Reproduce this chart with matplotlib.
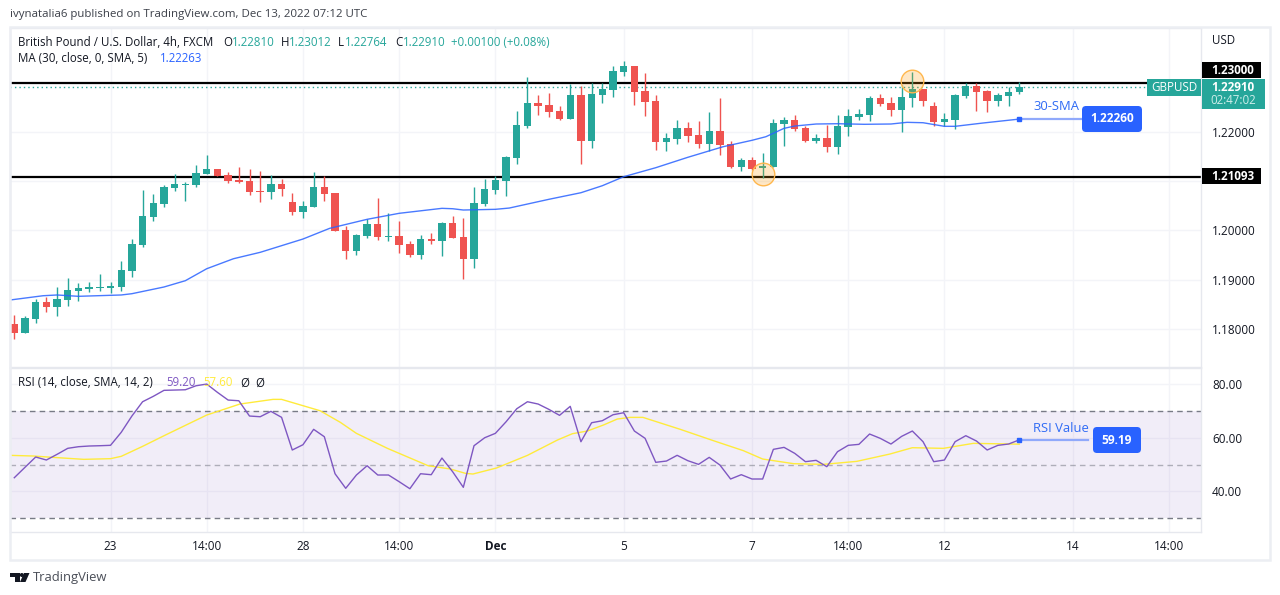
"""GBPUSD 4h chart with 30-SMA and RSI pane, TradingView look."""
import numpy as np
import matplotlib
matplotlib.use("Agg")
import matplotlib.pyplot as plt
from matplotlib.patches import Rectangle, FancyBboxPatch, Polygon, Circle

plt.rcParams["font.family"] = ["Open Sans", "DejaVu Sans"]

opens = [1.18100, 1.17917, 1.18201, 1.18546, 1.18445, 1.18587, 1.18770, 1.18810, 1.18831, 1.18831,
         1.18851, 1.19176, 1.19704, 1.20272, 1.20536, 1.20861, 1.20921, 1.20921, 1.21145, 1.21246,
         1.21124, 1.21023, 1.21003, 1.20800, 1.20779, 1.20942, 1.20576, 1.20373, 1.20475, 1.20881,
         1.20759, 1.20008, 1.19582, 1.19886, 1.20130, 1.19866, 1.19886, 1.19724, 1.19500, 1.19825,
         1.19785, 1.20150, 1.19866, 1.19419, 1.20536, 1.20820, 1.21003, 1.21470, 1.22119, 1.22586,
         1.22545, 1.22424, 1.22261, 1.22748, 1.21815, 1.22748, 1.22850, 1.23215, 1.23337, 1.22830,
         1.22627, 1.21795, 1.21856, 1.22079, 1.21937, 1.21754, 1.22018, 1.21754, 1.21287, 1.21429,
         1.21267, 1.21287, 1.22160, 1.22241, 1.22079, 1.21815, 1.21876, 1.21693, 1.22099, 1.22302,
         1.22342, 1.22688, 1.22586, 1.22444, 1.22688, 1.22870, 1.22525, 1.22200, 1.22241, 1.22728,
         1.22931, 1.22830, 1.22627, 1.22728, 1.22810]
highs = [1.18283, 1.18262, 1.18607, 1.18648, 1.18851, 1.19034, 1.18932, 1.18952, 1.19115, 1.18952,
         1.19379, 1.19825, 1.20820, 1.20739, 1.20921, 1.21145, 1.20982, 1.21327, 1.21530, 1.21246,
         1.21185, 1.21287, 1.21246, 1.21206, 1.21124, 1.21043, 1.20759, 1.20597, 1.21185, 1.21104,
         1.20759, 1.20089, 1.19927, 1.20231, 1.20658, 1.20353, 1.20191, 1.19785, 1.19907, 1.19947,
         1.20170, 1.20292, 1.20252, 1.20881, 1.21043, 1.21104, 1.21510, 1.22424, 1.23114, 1.22748,
         1.22789, 1.22525, 1.22972, 1.22931, 1.22992, 1.22992, 1.23337, 1.23439, 1.23337, 1.23195,
         1.22748, 1.21977, 1.22241, 1.22200, 1.22221, 1.22403, 1.22688, 1.21815, 1.21470, 1.21490,
         1.21571, 1.22261, 1.22302, 1.22342, 1.22119, 1.21957, 1.22139, 1.22342, 1.22464, 1.22464,
         1.22728, 1.22769, 1.22708, 1.22951, 1.23215, 1.22870, 1.22606, 1.22383, 1.22769, 1.22992,
         1.22992, 1.22850, 1.22789, 1.22911, 1.23012]
lows = [1.17795, 1.17917, 1.18120, 1.18343, 1.18262, 1.18465, 1.18567, 1.18749, 1.18770, 1.18729,
        1.18770, 1.19054, 1.19663, 1.20191, 1.20475, 1.20800, 1.20597, 1.20881, 1.21145, 1.21104,
        1.20962, 1.20962, 1.20719, 1.20576, 1.20637, 1.20698, 1.20312, 1.20252, 1.20475, 1.20597,
        1.19988, 1.19419, 1.19500, 1.19846, 1.19805, 1.19785, 1.19541, 1.19460, 1.19419, 1.19724,
        1.19480, 1.19846, 1.19014, 1.19237, 1.20495, 1.20739, 1.20698, 1.21348, 1.22079, 1.22342,
        1.22302, 1.22241, 1.22261, 1.21348, 1.21673, 1.22586, 1.22708, 1.23134, 1.22545, 1.22322,
        1.21632, 1.21612, 1.21754, 1.21795, 1.21673, 1.21612, 1.21530, 1.21267, 1.21206, 1.21226,
        1.21063, 1.21287, 1.21713, 1.22018, 1.21795, 1.21774, 1.21591, 1.21551, 1.21916, 1.22241,
        1.22221, 1.22525, 1.22322, 1.21998, 1.22505, 1.22525, 1.22119, 1.22119, 1.22058, 1.22688,
        1.22424, 1.22403, 1.22525, 1.22525, 1.22764]
closes = [1.17917, 1.18222, 1.18546, 1.18445, 1.18607, 1.18790, 1.18831, 1.18851, 1.18851, 1.18871,
          1.19196, 1.19724, 1.20292, 1.20556, 1.20881, 1.20942, 1.20942, 1.21165, 1.21246, 1.21104,
          1.21003, 1.20982, 1.20779, 1.20779, 1.20942, 1.20840, 1.20373, 1.20495, 1.20881, 1.20739,
          1.19988, 1.19582, 1.19907, 1.20130, 1.19866, 1.19886, 1.19704, 1.19500, 1.19825, 1.19785,
          1.20150, 1.19846, 1.19419, 1.20556, 1.20840, 1.21023, 1.21490, 1.22139, 1.22586, 1.22525,
          1.22403, 1.22261, 1.22748, 1.21815, 1.22769, 1.22870, 1.23236, 1.23337, 1.22809, 1.22606,
          1.21795, 1.21876, 1.22079, 1.21916, 1.21754, 1.22018, 1.21734, 1.21287, 1.21429, 1.21246,
          1.21307, 1.22180, 1.22241, 1.22058, 1.21815, 1.21876, 1.21693, 1.22119, 1.22322, 1.22363,
          1.22688, 1.22566, 1.22444, 1.22708, 1.22870, 1.22627, 1.22200, 1.22261, 1.22748, 1.22931,
          1.22809, 1.22627, 1.22748, 1.22809, 1.22910]

# 30-SMA, read at bar positions
ma_bars = [-0.4, 2.7, 4, 6, 10, 11, 14, 16, 18, 20.5, 23, 27, 29.5, 33, 36, 40, 41, 42, 45, 46.3,
           50, 53, 55, 57, 60, 63, 66.3, 69, 70.3, 72, 73, 75, 77, 79.5, 82, 83.5, 85, 87, 88, 90.6, 94]
ma_vals = [1.18587, 1.18674, 1.18689, 1.18662, 1.18689, 1.18715, 1.18851, 1.18979, 1.19222, 1.19425,
           1.19555, 1.19825, 1.20042, 1.20225, 1.20347, 1.20448, 1.20440, 1.20414, 1.20428, 1.20454,
           1.20631, 1.20765, 1.20907, 1.21090, 1.21273, 1.21484, 1.21699, 1.21829, 1.21902, 1.22072,
           1.22119, 1.22160, 1.22166, 1.22154, 1.22160, 1.22194, 1.22186, 1.22113, 1.22113, 1.22180, 1.22260]

rsi_vals = [45.09, 48.97, 52.81, 51.69, 53.81, 56.05, 56.65, 56.91, 57.02, 57.17,
            62.01, 68.09, 73.42, 75.43, 77.67, 77.78, 77.89, 79.38, 80.01, 76.92,
            74.05, 73.79, 68.09, 67.83, 69.84, 67.60, 55.42, 57.39, 63.13, 60.37,
            46.58, 41.14, 46.10, 49.56, 46.10, 46.10, 43.60, 40.99, 46.58, 46.21,
            52.43, 47.33, 41.51, 57.02, 60.00, 61.64, 65.96, 70.81, 73.42, 72.56,
            70.58, 68.35, 71.70, 58.51, 65.59, 66.34, 68.57, 69.32, 62.50, 59.78,
            50.83, 51.31, 53.44, 51.44, 50.07, 52.68, 49.82, 44.61, 46.22, 44.61,
            44.61, 55.67, 56.41, 54.17, 51.07, 51.57, 49.20, 54.79, 57.16, 57.53,
            61.38, 59.77, 57.65, 60.51, 62.50, 58.52, 51.07, 51.69, 58.52, 60.76,
            58.77, 55.42, 57.16, 57.65, 59.19]

rsi_ma_bars = [-0.4, 1.8, 3.6, 6.5, 9, 10, 12, 14.2, 18, 21.1, 24.2, 25, 28.6, 30.5, 32, 34.9, 38.7,
               40.8, 42.2, 42.9, 45.1, 48, 50.8, 52.2, 53.6, 55.1, 56.4, 57.6, 58.8, 62.3, 65.4, 68.2,
               70, 72.9, 75.7, 78.8, 81.9, 84, 86.9, 89.7, 94]
rsi_ma_vals = [53.43, 53.18, 52.68, 51.94, 52.19, 53.06, 56.78, 61.13, 68.46, 72.56, 74.30, 74.30,
               70.07, 65.73, 61.63, 56.04, 49.58, 48.33, 46.72, 46.47, 48.71, 53.43, 59.14, 61.50,
               62.50, 64.73, 66.97, 67.59, 67.59, 63.12, 58.89, 55.17, 52.06, 50.32, 50.07, 51.19,
               53.92, 56.28, 56.04, 57.90, 57.60]

time_bars = [9, 18, 27, 36, 45, 57, 69, 78, 87, 99, 108]
time_labels = ["23", "14:00", "28", "14:00", "Dec", "5", "7", "14:00", "12", "14", "14:00"]
price_ticks = [1.18, 1.19, 1.20, 1.21, 1.22, 1.23]
price_labels = ["1.18000", "1.19000", "1.20000", "", "1.22000", ""]
rsi_ticks = [40, 60, 80]
rsi_tick_labels = ["40.00", "60.00", "80.00"]

support = 1.21093
resistance = 1.23000
last_close = 1.22910
touch_bars = [70, 84]
touch_prices = [1.21145, 1.23033]

GREEN = "#26a69a"
RED = "#ef5350"
BLUE = "#2962ff"
CALLOUT = "#90a9fb"
PURPLE = "#7e57c2"
YELLOW = "#ffeb3b"
GRID = "#f3f4f8"
FRAME = "#e6e8ee"
INK = "#131722"
W, H = 1280, 595
BAR_PX = 10.69

fig = plt.figure(figsize=(W / 100, H / 100), dpi=100, facecolor="white")


def px_axes(x0, y0, x1, y1, **kw):
    return fig.add_axes([x0 / W, 1 - y1 / H, (x1 - x0) / W, (y1 - y0) / H], **kw)


ax = px_axes(10, 28, 1201, 367)
ax2 = px_axes(10, 368, 1201, 532, sharex=ax)

bars = np.arange(len(opens))
o, h, l, c = map(np.array, (opens, highs, lows, closes))
cols = [GREEN if b >= a else RED for a, b in zip(o, c)]
ax.vlines(bars, l, h, colors=cols, linewidth=1.0, zorder=3)
ax.bar(bars, np.maximum(np.abs(c - o), 0.00018), bottom=np.minimum(o, c), width=7.4 / BAR_PX,
       color=cols, linewidth=0, zorder=3)
ax.plot(ma_bars, ma_vals, color=BLUE, linewidth=1.0, alpha=0.85, zorder=4)

ax.axhline(resistance, color="black", linewidth=1.6, zorder=2)
ax.axhline(support, color="black", linewidth=1.6, zorder=2)
ax.axhline(last_close, color=GREEN, linewidth=1.0, linestyle=(0, (1, 2.2)), zorder=2)
ax.scatter(touch_bars, touch_prices, s=265, facecolor="#ff98003a", edgecolor="#ffb74d",
           linewidth=1.0, zorder=5)

# 30-SMA callout
ax.plot([94, 99.9], [ma_vals[-1], ma_vals[-1]], color=CALLOUT, linewidth=1.6, zorder=4)
ax.plot([94], [ma_vals[-1]], "s", color=BLUE, markersize=3.0, zorder=5)

ax.set_xlim(-0.402, 111.0)
ax.set_ylim(1.17227, 1.24109)
ax.set_yticks(price_ticks)
ax.set_yticklabels(price_labels)

# RSI pane
ax2.axhspan(30, 70, color=PURPLE, alpha=0.1, linewidth=0, zorder=1)
ax2.axhline(70, color="#787b86", linewidth=1, linestyle=(0, (4, 3)), zorder=2)
ax2.axhline(50, color="#787b86", linewidth=1, linestyle=(0, (4, 3)), alpha=0.55, zorder=2)
ax2.axhline(30, color="#787b86", linewidth=1, linestyle=(0, (4, 3)), zorder=2)
ax2.plot(rsi_ma_bars, rsi_ma_vals, color=YELLOW, linewidth=1.0, zorder=3)
ax2.plot(bars, rsi_vals, color=PURPLE, linewidth=1.0, zorder=4)
ax2.plot([94, 100.4], [rsi_vals[-1], rsi_vals[-1]], color=CALLOUT, linewidth=1.6, zorder=4)
ax2.plot([94], [rsi_vals[-1]], "s", color=BLUE, markersize=3.0, zorder=5)
ax2.set_ylim(24.85, 86.0)
ax2.set_yticks(rsi_ticks)
ax2.set_yticklabels(rsi_tick_labels)
ax2.set_xticks(time_bars)
ax2.set_xticklabels(time_labels)
ax2.get_xticklabels()[4].set_fontweight("bold")

for a in (ax, ax2):
    a.grid(True, color=GRID, linewidth=1)
    a.set_axisbelow(True)
    a.yaxis.tick_right()
    a.tick_params(axis="y", length=0, pad=8, labelsize=8.5, labelcolor=INK)
    for s in a.spines.values():
        s.set_color(FRAME)
        s.set_linewidth(1)
ax.tick_params(axis="x", length=0, labelbottom=False)
ax2.tick_params(axis="x", length=0, pad=6, labelsize=8.5, labelcolor=INK)

# overlay in pixel coordinates for the labels and the outer frame
fg = fig.add_axes([0, 0, 1, 1], zorder=10)
fg.set_xlim(0, W)
fg.set_ylim(H, 0)
fg.axis("off")
fg.patch.set_alpha(0)

fg.add_patch(Rectangle((9.5, 27), 1260, 533, fill=False, edgecolor="#eceef3", linewidth=1.8))


def label(x, y, s, color=INK, size=8.4, ha="left", **kw):
    fg.text(x, y, s, color=color, fontsize=size, ha=ha, va="center", **kw)


label(10, 14, "ivynatalia6 published on TradingView.com, Dec 13, 2022 07:12 UTC", color="#3c4049", size=8.25)

label(18, 42, "British Pound / U.S. Dollar, 4h, FXCM", size=8.3)
header = [(223, "O", INK), (232, "1.22810", GREEN), (281, "H", INK), (289, "1.23012", GREEN),
          (338, "L", INK), (345, "1.22764", GREEN), (395, "C", INK), (403, "1.22910", GREEN),
          (451, "+0.00100 (+0.08%)", GREEN)]
for x, s, col in header:
    label(x, 42, s, color=col, size=8.3)
label(18, 59, "MA (30, close, 0, SMA, 5)", size=8.3)
label(160, 59, "1.22263", color=BLUE, size=8.3)
label(18, 383, "RSI (14, close, SMA, 14, 2)", size=8.3)
label(166, 383, "59.20", color=PURPLE, size=8.3)
label(203, 383, "57.60", color=YELLOW, size=8.3)
label(240, 383, "Ø", size=8.3)
label(255, 383, "Ø", size=8.3)

label(1212, 41, "USD", size=8.3)
for y0, y1, s in [(62, 78, "1.23000"), (168, 184, "1.21093")]:
    fg.add_patch(Rectangle((1202, y0), 59, y1 - y0, color="black", linewidth=0))
    label(1233, (y0 + y1) / 2, s, color="white", ha="center", fontweight="bold", size=8.4)
fg.add_patch(Rectangle((1147, 79), 54, 17, color=GREEN, linewidth=0))
label(1174, 87.5, "GBPUSD", color="white", ha="center", size=8.4)
fg.add_patch(Rectangle((1202, 79), 63, 30, color=GREEN, linewidth=0))
label(1233, 87.5, "1.22910", color="white", ha="center", size=8.4, fontweight="bold")
label(1233, 101, "02:47:02", color="#cfeeea", ha="center", size=8.3)

for x0, y0, bw, bh, s in [(1082, 106, 60, 26, "1.22260"), (1093, 427, 48, 26, "59.19")]:
    fg.add_patch(FancyBboxPatch((x0 + 3, y0 + 3), bw - 6, bh - 6, boxstyle="round,pad=3,rounding_size=4",
                                facecolor=BLUE, edgecolor="none"))
    label(x0 + bw / 2, y0 + bh / 2, s, color="white", ha="center", size=8.6, fontweight="bold")
label(1033, 107, "30-SMA", color="#2f6bf5", size=9.4)
label(1033, 428, "RSI Value", color="#2f6bf5", size=9.4)

# TradingView logo
fg.add_patch(Polygon([(10, 573), (19.5, 573), (19.5, 582), (14.5, 582), (14.5, 576.5), (10, 576.5)],
                     color="#131722", linewidth=0))
fg.add_patch(Circle((21.8, 575), 2.0, color="#131722", linewidth=0))
fg.add_patch(Polygon([(24, 573), (29.5, 573), (25.5, 582), (20, 582)], color="#131722", linewidth=0))
label(33, 577, "TradingView", color="#4a4e58", size=9.4)

fig.savefig("out.png", dpi=100)
